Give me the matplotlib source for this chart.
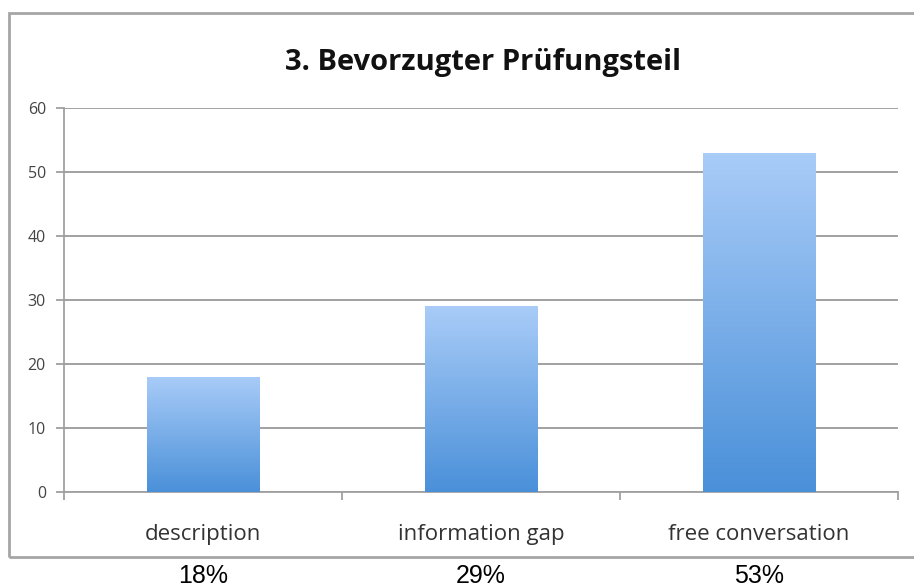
import numpy as np
import matplotlib.pyplot as plt
import matplotlib.patches as patches
from matplotlib.colors import LinearSegmentedColormap

# Data
categories = ['description', 'information gap', 'free conversation']
values = [18, 29, 53]
percent_labels = ['18%', '29%', '53%']
y_ticks = [0, 10, 20, 30, 40, 50, 60]
title = '3. Bevorzugter Prüfungsteil'

fig = plt.figure(figsize=(9.14, 5.87), dpi=100)
ax = fig.add_axes([0.070, 0.1618, 0.9125, 0.654])

# Outer chart frame
frame = patches.Rectangle((0.010, 0.051), 0.995, 0.927, transform=fig.transFigure,
                          fill=False, edgecolor='#a6a6a6', lw=2.0, zorder=0)
fig.patches.append(frame)

x = np.arange(len(categories))
bars = ax.bar(x, values, width=0.405, color='none', edgecolor='none', zorder=3)

# Vertical gradient fill for each bar
cmap = LinearSegmentedColormap.from_list('grad', ['#4a90d9', '#a9ccf8'])
grad = np.linspace(0, 1, 256).reshape(-1, 1)
for b in bars:
    x0, w, h = b.get_x(), b.get_width(), b.get_height()
    im = ax.imshow(grad, cmap=cmap, aspect='auto', origin='lower',
                   extent=[x0, x0 + w, 0, h], zorder=3)
    im.set_clip_path(b)

ax.set_xlim(-0.5, 2.5)
ax.set_ylim(0, 60)
ax.set_yticks(y_ticks)
ax.set_yticklabels([str(t) for t in y_ticks], fontsize=11.5, color='#444444',
                   family='Open Sans')
ax.yaxis.grid(True, color='#9a9a9a', lw=1.3, zorder=1)
ax.set_axisbelow(True)

# category boundary ticks on x axis
ax.set_xticks([-0.5, 0.5, 1.5, 2.5])
ax.set_xticklabels([])
ax.set_xticks(x, minor=True)
ax.set_xticklabels(categories, minor=True, fontsize=16, color='#333333',
                   family='Open Sans')
ax.tick_params(axis='x', which='minor', length=0, pad=23)
ax.tick_params(axis='x', which='major', length=6, color='#a0a0a0', width=1.3)
ax.tick_params(axis='y', length=6, color='#a0a0a0', width=1.3, pad=7)

for s in ['top', 'right']:
    ax.spines[s].set_visible(False)
for s in ['left', 'bottom']:
    ax.spines[s].set_color('#a0a0a0')
    ax.spines[s].set_linewidth(1.3)

fig.text(0.528, 0.893, title, ha='center', va='center', fontsize=21,
         fontweight='bold', family='Open Sans', color='#111111')

# Percent labels below the chart frame
for xi, lab in zip(x, percent_labels):
    xf = fig.transFigure.inverted().transform(ax.transData.transform((xi, 0)))[0]
    fig.text(xf, 0.019, lab, ha='center', va='center', fontsize=18,
             family='Liberation Sans', color='#000000')

fig.savefig('out.png', dpi=100)
